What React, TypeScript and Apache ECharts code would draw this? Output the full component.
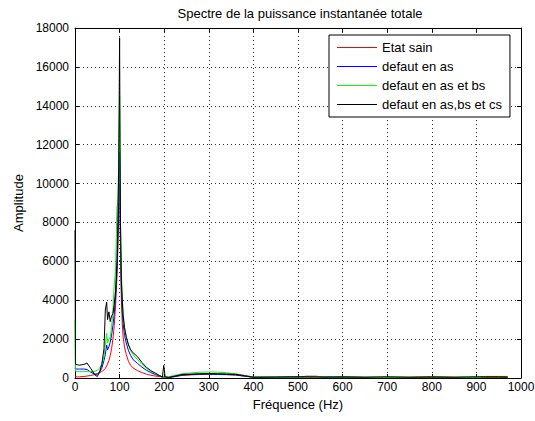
import React, { useEffect, useRef } from "react";
import * as echarts from "echarts";

// Frequency grid (Hz) shared by all four spectra
const FREQ = [
  0, 1, 5, 10, 20, 27, 35, 45, 50, 55, 60, 65, 68, 71, 73, 76, 79, 82, 85, 88,
  91, 94, 96, 98, 99, 100, 101, 102, 104, 106, 108, 111, 115, 120, 125, 130, 140,
  150, 160, 170, 180, 190, 196, 199, 202, 210, 220, 240, 260, 280, 300, 320, 340,
  360, 380, 400, 450, 500, 520, 540, 560, 600, 650, 700, 750, 800, 850, 900, 920,
  950, 970,
];

const ETAT_SAIN = [
  60, 60, 60, 60, 80, 100, 130, 180, 220, 270, 330, 420, 500, 620, 720, 900, 1150,
  1500, 2000, 2700, 3700, 5200, 6500, 8200, 9200, 10000, 8500, 6500, 4000, 2800,
  2100, 1600, 1200, 850, 650, 520, 380, 280, 200, 140, 100, 70, 50, 50, 40, 40, 60,
  130, 160, 180, 190, 180, 170, 150, 90, 40, 40, 40, 40, 40, 40, 70, 40, 40, 40,
  70, 40, 40, 80, 80, 80,
];

const DEFAUT_AS = [
  500, 470, 460, 460, 460, 440, 300, 200, 200, 300, 500, 900, 1200, 1700, 1450,
  1600, 1850, 2200, 2700, 3300, 4200, 5500, 7000, 9000, 10500, 11600, 9500, 7000,
  4500, 3500, 2800, 2200, 1800, 1400, 1150, 950, 750, 560, 400, 280, 180, 100, 50,
  40, 30, 30, 60, 150, 180, 200, 200, 190, 180, 160, 100, 40, 40, 60, 90, 90, 50,
  40, 30, 30, 30, 30, 30, 30, 30, 30, 30,
];

const DEFAUT_AS_BS = [
  3000, 350, 340, 330, 330, 330, 330, 350, 400, 500, 700, 1100, 1700, 2300, 1800,
  2000, 2100, 2600, 3500, 4800, 5500, 8800, 9000, 11000, 13000, 14500, 11000, 8000,
  5500, 4200, 3300, 2600, 2100, 1700, 1400, 1200, 950, 700, 500, 350, 230, 120, 60,
  50, 40, 60, 120, 220, 260, 300, 310, 300, 270, 220, 140, 50, 40, 50, 60, 80, 60,
  40, 30, 30, 30, 40, 30, 30, 30, 30, 30,
];

const DEFAUT_AS_BS_CS = [
  7600, 700, 680, 660, 700, 770, 500, 150, 80, 300, 700, 1500, 3500, 3900, 3000,
  3400, 2900, 3200, 3300, 3800, 4500, 6000, 8000, 11000, 14000, 17500, 12000, 8000,
  5000, 4000, 3200, 2600, 2100, 1700, 1450, 1300, 1100, 800, 550, 380, 250, 120,
  50, 650, 60, 30, 80, 180, 200, 220, 230, 220, 210, 190, 120, 40, 50, 60, 60, 60,
  50, 50, 40, 60, 40, 50, 40, 60, 50, 50, 40,
];

const SERIES_NAMES = [
  "Etat sain",
  "defaut en as",
  "defaut en as et bs",
  "defaut en as,bs et cs",
];
const SERIES_VALUES = [ETAT_SAIN, DEFAUT_AS, DEFAUT_AS_BS, DEFAUT_AS_BS_CS];
const SERIES_COLORS = ["#ff0000", "#0000ff", "#00ff00", "#000000"];

const FONT = "'Liberation Sans', Arial, sans-serif";

// legend box geometry (px)
const LEGEND_LEFT = 329;
const LEGEND_TOP = 35;
const LEGEND_PAD_TOP = 5;
const LEGEND_ROW_PITCH = 19;
const LEGEND_SAMPLE_X = 337;
const LEGEND_SAMPLE_W = 40;

export default function App() {
  const ref = useRef<HTMLDivElement>(null);

  useEffect(() => {
    if (!ref.current) return;
    const chart = echarts.init(ref.current, null, { renderer: "svg" });

    const axisCommon = {
      type: "value" as const,
      axisLine: { show: true, onZero: false, lineStyle: { color: "#000", width: 1 } },
      axisTick: { show: true, inside: true, length: 4, lineStyle: { color: "#000" } },
      splitLine: { show: false },
    };

    const plain = (v: number) => String(v);

    // coloured line samples drawn over the legend's (blank) icon slots
    const legendSamples = SERIES_COLORS.map((color, i) => {
      const y = LEGEND_TOP + LEGEND_PAD_TOP + 7 + i * LEGEND_ROW_PITCH + 0.5;
      return {
        type: "line",
        z: 100,
        silent: true,
        shape: { x1: LEGEND_SAMPLE_X, y1: y, x2: LEGEND_SAMPLE_X + LEGEND_SAMPLE_W, y2: y },
        style: { stroke: color, lineWidth: 1 },
      };
    });

    chart.setOption({
      animation: false,
      backgroundColor: "#fff",
      textStyle: { fontFamily: FONT },
      title: {
        text: "Spectre de la puissance instantanée totale",
        left: 300,
        top: 7,
        padding: 0,
        textAlign: "center",
        textStyle: { fontFamily: FONT, fontSize: 13, fontWeight: "normal", color: "#000" },
      },
      grid: {
        left: 75,
        right: 14,
        top: 28,
        bottom: 43,
        containLabel: false,
        outerBoundsMode: "none",
      },
      legend: {
        orient: "vertical",
        left: LEGEND_LEFT,
        top: LEGEND_TOP,
        itemWidth: LEGEND_SAMPLE_W,
        itemHeight: 1,
        itemGap: 4,
        padding: [LEGEND_PAD_TOP, 8, 5, 8],
        borderColor: "#000",
        borderWidth: 1,
        backgroundColor: "#fff",
        textStyle: { fontFamily: FONT, fontSize: 13, color: "#000", lineHeight: 15 },
        data: SERIES_NAMES.map((name) => ({
          name,
          icon: "rect",
          itemStyle: { color: "rgba(0,0,0,0)", borderWidth: 0, opacity: 0 },
        })),
      },
      graphic: legendSamples,
      xAxis: [
        {
          ...axisCommon,
          position: "bottom",
          min: 0,
          max: 1000,
          interval: 100,
          name: "Fréquence (Hz)",
          nameLocation: "middle",
          nameGap: 18,
          nameTextStyle: { fontFamily: FONT, fontSize: 13, color: "#000" },
          axisLabel: {
            show: true,
            margin: 3,
            color: "#000",
            fontFamily: FONT,
            fontSize: 12,
            showMinLabel: true,
            showMaxLabel: true,
            formatter: plain,
          },
          splitLine: {
            show: true,
            lineStyle: { color: "#333", width: 1, type: [1, 3] },
          },
        },
        {
          ...axisCommon,
          position: "top",
          min: 0,
          max: 1000,
          interval: 100,
          axisLabel: { show: false },
        },
      ],
      yAxis: [
        {
          ...axisCommon,
          position: "left",
          min: 0,
          max: 18000,
          interval: 2000,
          name: "Amplitude",
          nameLocation: "middle",
          nameGap: 42,
          nameTextStyle: { fontFamily: FONT, fontSize: 13, color: "#000" },
          axisLabel: {
            show: true,
            margin: 6,
            color: "#000",
            fontFamily: FONT,
            fontSize: 12,
            showMinLabel: true,
            showMaxLabel: true,
            formatter: plain,
          },
          splitLine: {
            show: true,
            lineStyle: { color: "#333", width: 1, type: [1, 3] },
          },
        },
        {
          ...axisCommon,
          position: "right",
          min: 0,
          max: 18000,
          interval: 2000,
          axisLabel: { show: false },
        },
      ],
      series: SERIES_NAMES.map((name, i) => ({
        name,
        type: "line",
        xAxisIndex: 0,
        yAxisIndex: 0,
        data: FREQ.map((f, j) => [f, SERIES_VALUES[i][j]]),
        symbol: "none",
        showSymbol: false,
        lineStyle: { color: SERIES_COLORS[i], width: 1 },
        itemStyle: { color: SERIES_COLORS[i] },
        emphasis: { disabled: true },
      })),
    });

    return () => chart.dispose();
  }, []);

  return (
    <div
      ref={ref}
      style={{ position: "fixed", left: 0, top: 0, width: 535, height: 421, background: "#fff" }}
    />
  );
}
